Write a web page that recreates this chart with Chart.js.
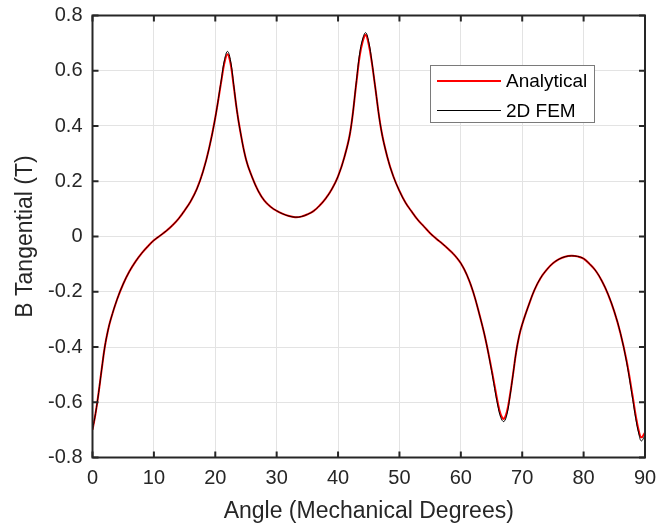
<!DOCTYPE html>
<html>
<head>
<meta charset="utf-8">
<script src="https://cdn.jsdelivr.net/npm/chart.js@4.4.1/dist/chart.umd.min.js"></script>
<style>
  html, body { margin: 0; padding: 0; background: #fff; }
  #wrap { width: 656px; height: 527px; }
</style>
</head>
<body>
<div id="wrap"><canvas id="chart" width="656" height="527"></canvas></div>
<script>
// values
const angle = [0, 0.5, 1, 1.5, 2, 2.5, 3, 4, 5, 6, 7, 8, 9, 10, 11, 12, 13, 14, 15, 16, 17, 18, 19, 20, 21, 21.5, 22, 22.5, 23, 23.5, 24, 25, 26, 27, 28, 29, 30,
  31, 32, 33, 34, 35, 36, 37, 38, 39, 40, 41, 42, 43, 43.5, 44, 44.5, 45, 45.5, 46, 47, 48, 49, 50, 51, 52, 53, 54, 55, 56, 57, 58, 59, 60,
  61, 62, 63, 64, 65, 65.5, 66, 66.5, 67, 67.5, 68, 68.5, 69, 69.5, 70, 71, 72, 73, 74, 75, 76, 77, 78, 79, 80, 81, 82, 83, 84, 85, 86, 87, 88, 88.5, 89, 89.4, 90];
const analytical = [-0.70, -0.64, -0.565, -0.48, -0.40, -0.342, -0.298, -0.228, -0.172, -0.127, -0.091, -0.061, -0.036, -0.014, 0.003, 0.02, 0.04, 0.064, 0.094, 0.128, 0.172, 0.235, 0.32, 0.43, 0.565, 0.63, 0.66, 0.625, 0.545, 0.46, 0.39, 0.28, 0.215, 0.165, 0.13, 0.108, 0.093,
  0.082, 0.074, 0.07, 0.072, 0.08, 0.092, 0.112, 0.138, 0.172, 0.218, 0.285, 0.38, 0.56, 0.65, 0.705, 0.73, 0.695, 0.63, 0.55, 0.39, 0.29, 0.218, 0.165, 0.122, 0.09, 0.06, 0.036, 0.012, -0.008, -0.026, -0.046, -0.068, -0.097,
  -0.14, -0.2, -0.28, -0.37, -0.48, -0.54, -0.6, -0.645, -0.66, -0.635, -0.575, -0.5, -0.42, -0.36, -0.318, -0.252, -0.193, -0.15, -0.12, -0.097, -0.082, -0.073, -0.07, -0.072, -0.08, -0.1, -0.125, -0.162, -0.21, -0.272, -0.35, -0.45, -0.58, -0.65, -0.705, -0.727, -0.71];
const fem = [-0.70, -0.64, -0.565, -0.48, -0.40, -0.342, -0.298, -0.228, -0.172, -0.127, -0.091, -0.061, -0.036, -0.014, 0.003, 0.02, 0.04, 0.064, 0.094, 0.128, 0.172, 0.235, 0.32, 0.43, 0.57, 0.64, 0.67, 0.635, 0.55, 0.46, 0.39, 0.28, 0.215, 0.165, 0.13, 0.108, 0.093,
  0.082, 0.074, 0.07, 0.072, 0.08, 0.092, 0.112, 0.138, 0.172, 0.218, 0.285, 0.38, 0.565, 0.66, 0.715, 0.738, 0.705, 0.635, 0.55, 0.39, 0.29, 0.218, 0.165, 0.122, 0.09, 0.06, 0.036, 0.012, -0.008, -0.026, -0.046, -0.068, -0.097,
  -0.14, -0.2, -0.28, -0.37, -0.485, -0.55, -0.61, -0.655, -0.67, -0.645, -0.58, -0.5, -0.42, -0.36, -0.318, -0.252, -0.193, -0.15, -0.12, -0.097, -0.082, -0.073, -0.07, -0.072, -0.08, -0.1, -0.125, -0.162, -0.21, -0.272, -0.35, -0.455, -0.59, -0.66, -0.715, -0.74, -0.72];
const seriesNames = ['Analytical', '2D FEM'];
const xTicks = [0, 10, 20, 30, 40, 50, 60, 70, 80, 90];
const yTicks = [-0.8, -0.6, -0.4, -0.2, 0, 0.2, 0.4, 0.6, 0.8];

const axisColor = '#262626';
const fontFamily = "'Liberation Sans', Arial, Helvetica, sans-serif";

function toPoints(ys) {
  return angle.map((a, i) => ({ x: a, y: ys[i] }));
}

// matlab-like box, inward ticks and legend
const framePlugin = {
  id: 'frame',
  afterDraw(chart) {
    const ctx = chart.ctx;
    const a = chart.chartArea;
    const xs = chart.scales.x, ys = chart.scales.y;
    ctx.save();
    ctx.strokeStyle = axisColor;
    ctx.lineWidth = 2;
    ctx.beginPath();
    xTicks.forEach(v => {
      const px = xs.getPixelForValue(v);
      ctx.moveTo(px, a.bottom); ctx.lineTo(px, a.bottom - 6);
      ctx.moveTo(px, a.top); ctx.lineTo(px, a.top + 6);
    });
    yTicks.forEach(v => {
      const py = ys.getPixelForValue(v);
      ctx.moveTo(a.left, py); ctx.lineTo(a.left + 6, py);
      ctx.moveTo(a.right, py); ctx.lineTo(a.right - 6, py);
    });
    ctx.stroke();
    ctx.strokeRect(a.left, a.top, a.right - a.left, a.bottom - a.top);

    // legend
    const lx = 430.5, ly = 65.5, lw = 164, lh = 57;
    ctx.fillStyle = '#fff';
    ctx.fillRect(lx, ly, lw, lh);
    ctx.strokeStyle = '#7a7a7a';
    ctx.lineWidth = 1;
    ctx.strokeRect(lx, ly, lw, lh);
    const ds = chart.data.datasets;
    [81, 110.5].forEach((y, i) => {
      ctx.strokeStyle = ds[i].borderColor;
      ctx.lineWidth = ds[i].borderWidth;
      ctx.beginPath();
      ctx.moveTo(437, y); ctx.lineTo(501, y);
      ctx.stroke();
      ctx.fillStyle = '#000';
      ctx.font = '19px ' + fontFamily;
      ctx.textBaseline = 'middle';
      ctx.fillText(ds[i].label, 506, Math.round(y) + 1);
    });
    ctx.restore();
  }
};

new Chart(document.getElementById('chart'), {
  type: 'line',
  data: {
    datasets: [{
      label: seriesNames[0],
      data: toPoints(analytical),
      borderColor: '#ff0000',
      borderWidth: 2,
      order: 1
    }, {
      label: seriesNames[1],
      data: toPoints(fem),
      borderColor: '#000000',
      borderWidth: 1,
      order: 0
    }]
  },
  options: {
    responsive: false,
    animation: false,
    events: [],
    layout: { padding: { top: 15.5, right: 11, left: 0, bottom: 0 } },
    elements: {
      point: { radius: 0 },
      line: { tension: 0.4, fill: false }
    },
    plugins: {
      legend: { display: false },
      tooltip: { enabled: false }
    },
    scales: {
      x: {
        type: 'linear',
        min: 0, max: 90,
        afterBuildTicks: s => { s.ticks = xTicks.map(v => ({ value: v })); },
        afterFit: s => { s.height = 69.5; s.paddingLeft = 0; s.paddingRight = 0; },
        grid: { color: '#e3e3e3', drawTicks: false },
        border: { display: false },
        ticks: {
          padding: 9,
          color: axisColor,
          font: { family: fontFamily, size: 20 },
          maxRotation: 0
        },
        title: {
          display: true,
          text: 'Angle (Mechanical Degrees)',
          color: axisColor,
          font: { family: fontFamily, size: 23 },
          padding: { top: 0, bottom: 2 }
        }
      },
      y: {
        type: 'linear',
        min: -0.8, max: 0.8,
        afterBuildTicks: s => { s.ticks = yTicks.map(v => ({ value: v })); },
        afterFit: s => { s.width = 92.5; s.paddingTop = 0; s.paddingBottom = 0; },
        grid: { color: '#e3e3e3', drawTicks: false },
        border: { display: false },
        ticks: {
          padding: 10,
          color: axisColor,
          font: { family: fontFamily, size: 20 },
          callback: v => v === 0 ? '0' : v.toFixed(1)
        },
        title: {
          display: true,
          text: 'B Tangential (T)',
          color: axisColor,
          font: { family: fontFamily, size: 23 },
          padding: { top: 12, bottom: 0 }
        }
      }
    }
  },
  plugins: [framePlugin]
});
</script>
</body>
</html>
